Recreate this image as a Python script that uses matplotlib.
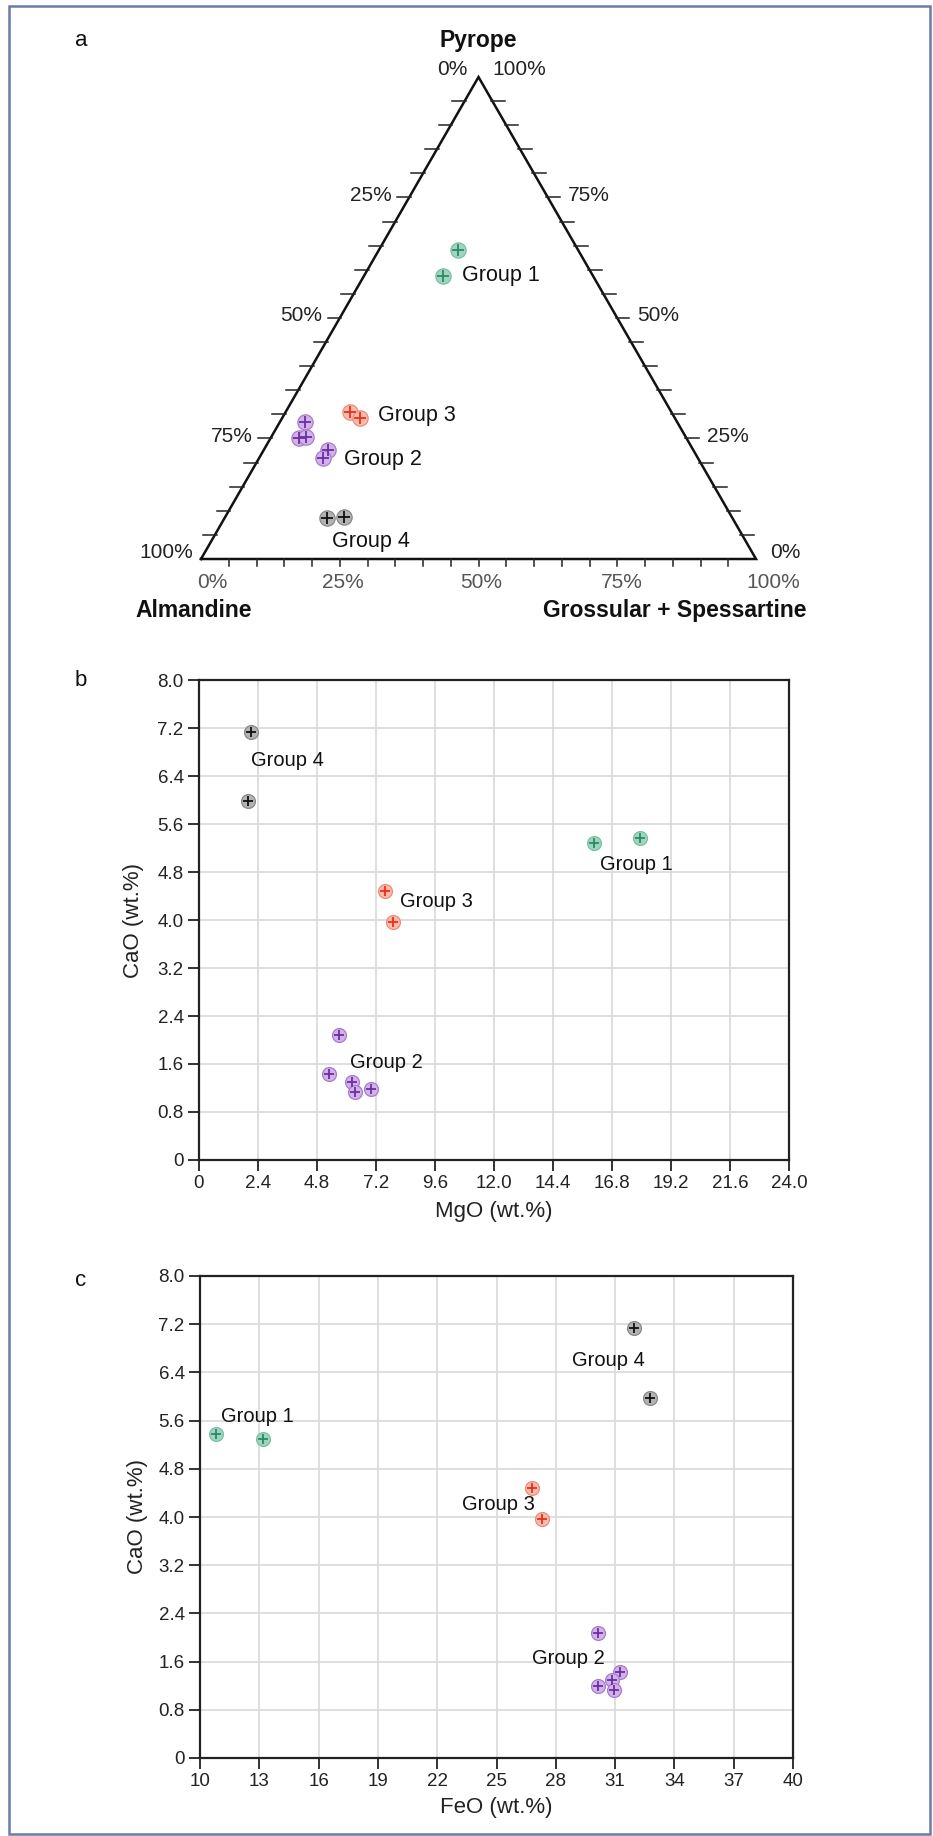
import matplotlib
matplotlib.use('Agg')
import matplotlib.pyplot as plt
import numpy as np
from matplotlib.patches import Rectangle

plt.rcParams['font.family'] = ['Liberation Sans', 'DejaVu Sans']

# ---------------- data ----------------
groups = ['Group 1', 'Group 2', 'Group 3', 'Group 4']

# ternary (mol %): Pyrope and Grossular+Spessartine (Almandine = rest)
tern_pyrope = {
    'Group 1': [64.1, 58.7],
    'Group 2': [28.5, 25.2, 25.4, 22.6, 20.9],
    'Group 3': [30.5, 29.2],
    'Group 4': [8.5, 8.8],
}
tern_grs = {
    'Group 1': [14.3, 14.3],
    'Group 2': [4.4, 5.0, 6.3, 11.6, 11.5],
    'Group 3': [11.6, 14.1],
    'Group 4': [18.4, 21.4],
}

# oxides (wt. %)
mgo = {
    'Group 1': [16.05, 17.94],
    'Group 2': [5.70, 5.28, 6.21, 6.33, 7.01],
    'Group 3': [7.56, 7.90],
    'Group 4': [2.11, 2.01],
}
feo = {
    'Group 1': [13.17, 10.81],
    'Group 2': [30.14, 31.26, 30.86, 30.95, 30.14],
    'Group 3': [26.79, 27.28],
    'Group 4': [31.98, 32.76],
}
cao = {
    'Group 1': [5.29, 5.37],
    'Group 2': [2.08, 1.43, 1.30, 1.13, 1.19],
    'Group 3': [4.48, 3.96],
    'Group 4': [7.14, 5.98],
}

tern_side_labels = ['25%', '50%', '75%', '100%']
b_xticks = [0, 2.4, 4.8, 7.2, 9.6, 12.0, 14.4, 16.8, 19.2, 21.6, 24.0]
b_xticklabels = ['0', '2.4', '4.8', '7.2', '9.6', '12.0', '14.4', '16.8', '19.2', '21.6', '24.0']
c_xticks = [10, 13, 16, 19, 22, 25, 28, 31, 34, 37, 40]
c_xticklabels = [str(v) for v in c_xticks]
yticks = [0, 0.8, 1.6, 2.4, 3.2, 4.0, 4.8, 5.6, 6.4, 7.2, 8.0]
yticklabels = ['0', '0.8', '1.6', '2.4', '3.2', '4.0', '4.8', '5.6', '6.4', '7.2', '8.0']

colors = {
    'Group 1': dict(fill='#9fd5bf', edge='#7cc0a6', plus='#2a8a66'),
    'Group 2': dict(fill='#d2b2e8', edge='#a77dcb', plus='#6b2fa3'),
    'Group 3': dict(fill='#f9bcac', edge='#f08a78', plus='#e8301c'),
    'Group 4': dict(fill='#b3b3b3', edge='#8a8a8a', plus='#111111'),
}

# ---------------- figure ----------------
W, Hpx = 933, 1836
fig = plt.figure(figsize=(W / 100, Hpx / 100), dpi=100)
fig.patch.set_facecolor('white')

fig.add_artist(Rectangle((9 / W, 1 - 1834 / Hpx), (930 - 9) / W, (1834 - 6) / Hpx,
                         transform=fig.transFigure, fill=False, ec='#6c7aa8', lw=1.8))

for lab, ypx in [('a', 40), ('b', 680), ('c', 1281)]:
    fig.text(81 / W, 1 - ypx / Hpx, lab, fontsize=16, ha='center', va='center', color='#111')


def draw_pts(ax, x, y, g, ms_c, ms_p):
    c = colors[g]
    ax.plot(x, y, 'o', ms=ms_c, mfc=c['fill'], mec=c['edge'], mew=0.9, ls='none',
            clip_on=False, zorder=3)
    ax.plot(x, y, '+', ms=ms_p, mew=1.3, color=c['plus'], ls='none', clip_on=False, zorder=4)


# ---------------- (a) ternary ----------------
H = np.sqrt(3) / 2
axT = fig.add_axes([201 / W, 1 - 559 / Hpx, 555 / W, 482 / Hpx])
axT.set_xlim(0, 1)
axT.set_ylim(0, H)
axT.axis('off')
axT.plot([0, 1, 0.5, 0], [0, 0, H, 0], color='#111', lw=1.8, solid_joinstyle='miter',
         clip_on=False)

tl = 0.022
for v in range(5, 100, 5):
    f = v / 100
    xl, yl = 0.5 - 0.5 * f, H * (1 - f)
    axT.plot([xl - tl, xl + 0.003], [yl, yl], color='#222', lw=1.1, clip_on=False)
    xr = 0.5 + 0.5 * f
    axT.plot([xr - 0.003, xr + tl], [yl, yl], color='#222', lw=1.1, clip_on=False)
    axT.plot([f, f], [0, -0.0126], color='#222', lw=1.1, clip_on=False)

fs_t = 15
# top labels
axT.text(0.453, 0.880, '0%', fontsize=fs_t, ha='center', va='center', color='#222')
axT.text(0.573, 0.880, '100%', fontsize=fs_t, ha='center', va='center', color='#222')
# left side
for i, lab in enumerate(tern_side_labels):
    f = (i + 1) * 0.25
    xl, yl = 0.5 - 0.5 * f, H * (1 - f)
    dy = 0.012 if f == 1 else 0.004
    dx = 0.015 if f == 1 else 0.032
    axT.text(xl - dx, yl + dy, lab, fontsize=fs_t, ha='right', va='center', color='#222')
# right side
for i, lab in enumerate(['75%', '50%', '25%', '0%']):
    f = (i + 1) * 0.25
    xr, yr = 0.5 + 0.5 * f, H * (1 - f)
    dy = 0.011 if f == 1 else 0.004
    dx = 0.025 if f == 1 else 0.036
    axT.text(xr + dx, yr + dy, lab, fontsize=fs_t, ha='left', va='center', color='#222')
# bottom
for v, lab in zip([0.02, 0.255, 0.504, 0.758, 1.031], ['0%', '25%', '50%', '75%', '100%']):
    axT.text(v, -0.043, lab, fontsize=fs_t, ha='center', va='center', color='#555')

axT.text(0.5, 0.9325, 'Pyrope', fontsize=16.5, fontweight='bold', ha='center', va='center', color='#111')
axT.text(-0.0126, -0.0934, 'Almandine', fontsize=16.5, fontweight='bold', ha='center', va='center', color='#111')
axT.text(0.854, -0.0934, 'Grossular + Spessartine', fontsize=16.5, fontweight='bold', ha='center',
         va='center', color='#111')

for g in groups:
    P = np.array(tern_pyrope[g]) / 100
    G = np.array(tern_grs[g]) / 100
    x = G + P / 2
    y = P * H
    draw_pts(axT, x, y, g, 11, 8)

tern_lab_pos = {'Group 1': (0.470, 0.509), 'Group 3': (0.3186, 0.2587),
                'Group 2': (0.2571, 0.1779), 'Group 4': (0.2355, 0.0323)}
for g, (x, y) in tern_lab_pos.items():
    axT.text(x, y, g, fontsize=15.5, ha='left', va='center', color='#111')


# ---------------- (b) and (c) ----------------
def style(ax, xticks, xticklabels, xlim, xlabel, ylab_x, xlab_y):
    ax.set_xlim(*xlim)
    ax.set_ylim(0, 8.0)
    ax.set_xticks(xticks)
    ax.set_xticklabels(xticklabels)
    ax.set_yticks(yticks)
    ax.set_yticklabels(yticklabels)
    ax.tick_params(direction='out', length=8, width=1.3, labelsize=13.5, colors='#222', pad=3)
    ax.grid(True, color='#d9d9d9', lw=1.2)
    ax.set_axisbelow(True)
    for s in ax.spines.values():
        s.set_linewidth(1.6)
        s.set_color('#222')
    ax.set_xlabel(xlabel, fontsize=16, color='#222')
    ax.set_ylabel('CaO (wt.%)', fontsize=16, color='#222')
    ax.yaxis.set_label_coords(ylab_x, 0.5)
    ax.xaxis.set_label_coords(0.5, xlab_y)


axB = fig.add_axes([199 / W, 1 - 1160 / Hpx, 590 / W, 480 / Hpx])
style(axB, b_xticks, b_xticklabels, (0, 24), 'MgO (wt.%)', -0.093, -0.085)
for g in groups:
    draw_pts(axB, mgo[g], cao[g], g, 10, 7.5)
b_lab = {'Group 4': (2.1, 6.66), 'Group 1': (16.3, 4.92), 'Group 3': (8.17, 4.31),
         'Group 2': (6.16, 1.63)}
for g, (x, y) in b_lab.items():
    axB.text(x, y, g, fontsize=14.5, ha='left', va='center', color='#111')

axC = fig.add_axes([200 / W, 1 - 1758 / Hpx, 593 / W, 482 / Hpx])
style(axC, c_xticks, c_xticklabels, (10, 40), 'FeO (wt.%)', -0.087, -0.081)
for g in groups:
    draw_pts(axC, feo[g], cao[g], g, 10, 7.5)
c_lab = {'Group 4': (28.84, 6.60), 'Group 1': (11.06, 5.67), 'Group 3': (23.27, 4.20),
         'Group 2': (26.82, 1.65)}
for g, (x, y) in c_lab.items():
    axC.text(x, y, g, fontsize=14.5, ha='left', va='center', color='#111')

fig.savefig('out.png', dpi=100, facecolor='white')
